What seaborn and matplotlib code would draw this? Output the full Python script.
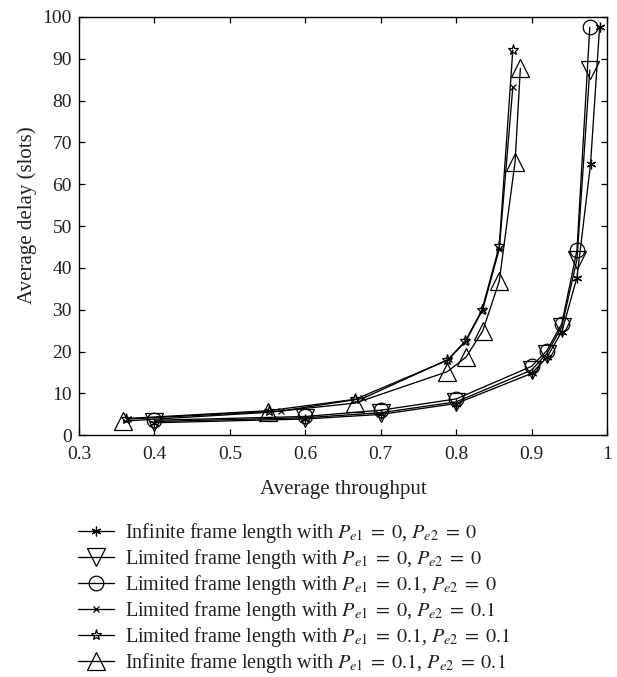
import matplotlib
matplotlib.use("Agg")
import matplotlib.pyplot as plt
import seaborn as sns
import numpy as np

# ---- data ----
inf00_x = [0.40, 0.60, 0.70, 0.80, 0.90, 0.92, 0.94, 0.96, 0.978, 0.990]
inf00_y = [3.0, 3.9, 5.0, 7.6, 14.8, 18.6, 24.8, 37.7, 64.8, 97.6]

lim00_x = [0.40, 0.60, 0.70, 0.80, 0.90, 0.92, 0.94, 0.96, 0.977]
lim00_y = [3.3, 4.2, 5.4, 8.0, 15.6, 19.5, 26.0, 42.0, 87.3]

lim10_x = [0.40, 0.60, 0.70, 0.80, 0.90, 0.92, 0.94, 0.96, 0.977]
lim10_y = [3.6, 4.5, 6.0, 8.7, 16.5, 20.2, 26.7, 44.2, 97.5]

lim01_x = [0.365, 0.568, 0.676, 0.790, 0.813, 0.835, 0.857, 0.875]
lim01_y = [3.9, 5.8, 8.8, 18.2, 22.6, 30.0, 44.5, 83.2]

lim11_x = [0.362, 0.552, 0.666, 0.788, 0.812, 0.834, 0.857, 0.875]
lim11_y = [4.0, 5.9, 8.6, 17.9, 22.5, 29.9, 45.2, 92.1]

inf11_x = [0.359, 0.551, 0.666, 0.788, 0.813, 0.835, 0.857, 0.878, 0.885]
inf11_y = [3.4, 5.5, 7.7, 15.2, 18.7, 24.9, 36.8, 65.4, 87.7]

labels = [
    r"Infinite frame length with $P_{e1}\;=\;0$, $P_{e2}\;=\;0$",
    r"Limited frame length with $P_{e1}\;=\;0$, $P_{e2}\;=\;0$",
    r"Limited frame length with $P_{e1}\;=\;0.1$, $P_{e2}\;=\;0$",
    r"Limited frame length with $P_{e1}\;=\;0$, $P_{e2}\;=\;0.1$",
    r"Limited frame length with $P_{e1}\;=\;0.1$, $P_{e2}\;=\;0.1$",
    r"Infinite frame length with $P_{e1}\;=\;0.1$, $P_{e2}\;=\;0.1$",
]

xticks = [0.3, 0.4, 0.5, 0.6, 0.7, 0.8, 0.9, 1.0]
xticklabels = ["0.3", "0.4", "0.5", "0.6", "0.7", "0.8", "0.9", "1"]
yticks = [0, 10, 20, 30, 40, 50, 60, 70, 80, 90, 100]

# ---- style ----
sns.set_theme(style="ticks")
plt.rcParams["font.family"] = ["Liberation Serif", "DejaVu Serif"]
plt.rcParams["mathtext.fontset"] = "stix"
plt.rcParams["xtick.direction"] = "in"
plt.rcParams["ytick.direction"] = "in"

TXT = "#231f20"

fig = plt.figure(figsize=(6.17, 6.77), dpi=100)
ax = fig.add_axes([0.128, 0.357, 0.856, 0.618])

series = [
    (inf00_x, inf00_y, (6, 2, 0), 7),
    (lim00_x, lim00_y, "v", 12.5),
    (lim10_x, lim10_y, "o", 10.5),
    (lim01_x, lim01_y, "x", 5),
    (lim11_x, lim11_y, "*", 8),
    (inf11_x, inf11_y, "^", 13),
]

for (xs, ys, mk, ms), lab in zip(series, labels):
    sns.lineplot(x=xs, y=ys, ax=ax, color="black", linewidth=0.95,
                 marker=mk, markersize=ms, markerfacecolor="none",
                 markeredgecolor="black", markeredgewidth=0.9,
                 label=lab, sort=False, legend=False)

ax.set_xlim(0.3, 1.0)
ax.set_ylim(0, 100)
ax.set_xticks(xticks)
ax.set_xticklabels(xticklabels)
ax.set_yticks(yticks)
ax.tick_params(axis="both", which="both", top=True, right=True,
               labelsize=14, length=4, width=0.9, color="black",
               labelcolor=TXT)
ax.tick_params(axis="x", pad=8)
ax.tick_params(axis="y", pad=5)
for s in ax.spines.values():
    s.set_linewidth(1.0)
    s.set_color("black")
ax.set_xlabel("Average throughput", fontsize=15, color=TXT, labelpad=12)
ax.set_ylabel("Average delay (slots)", fontsize=15, color=TXT, labelpad=3)
ax.yaxis.set_label_coords(-0.08, 0.525)

handles, labs = ax.get_legend_handles_labels()
fig.legend(handles, labs, loc="upper left", bbox_to_anchor=(0.1264, 0.230),
           frameon=False, fontsize=14.5, handlelength=1.8, handletextpad=0.55,
           labelspacing=0.1, borderpad=0, borderaxespad=0, labelcolor=TXT)

fig.savefig("out.png", dpi=100)
